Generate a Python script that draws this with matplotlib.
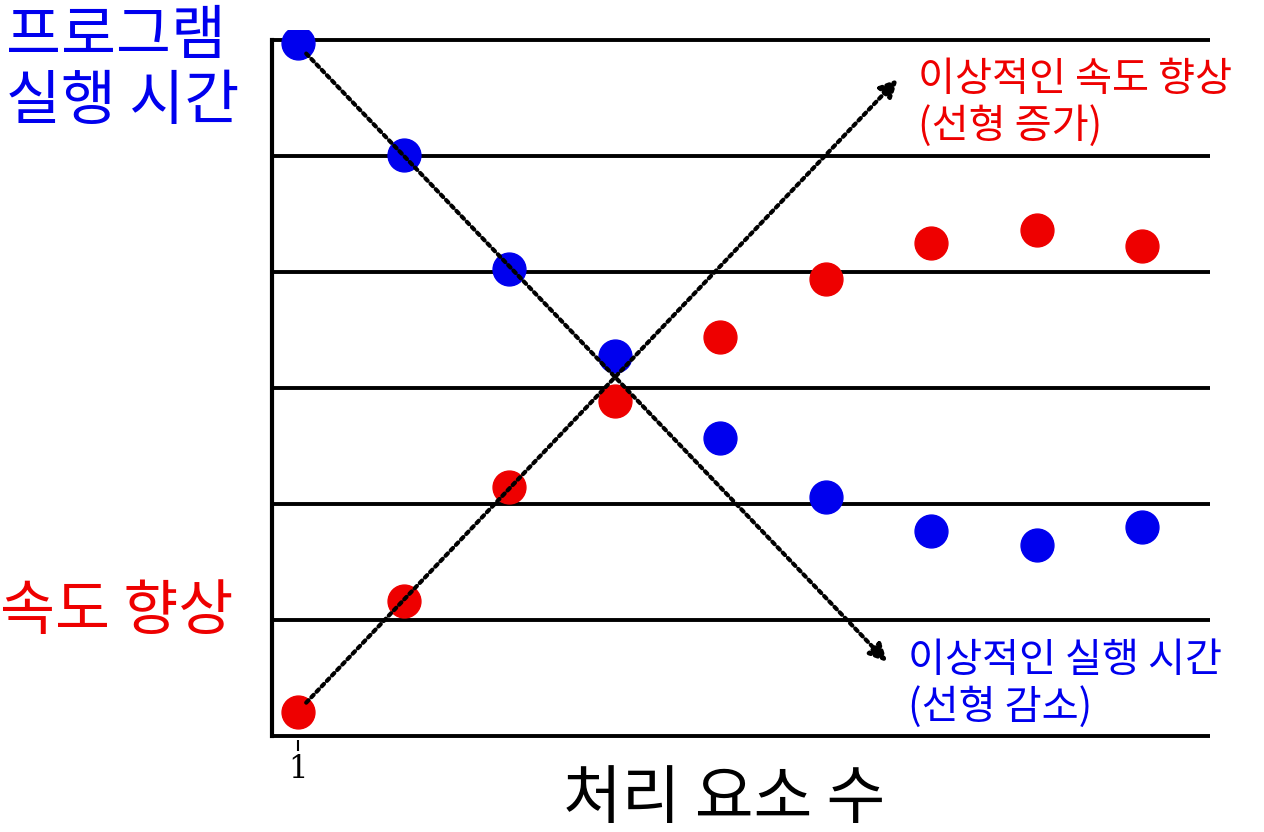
import matplotlib
matplotlib.use("Agg")
import matplotlib.pyplot as plt

plt.rcParams['font.family'] = ['Noto Sans CJK KR', 'DejaVu Sans']

x = [1, 2, 3, 4, 5, 6, 7, 8, 9]
exec_time = [5.97, 5.01, 4.03, 3.28, 2.57, 2.06, 1.77, 1.65, 1.80]
speedup = [0.21, 1.16, 2.15, 2.89, 3.44, 3.94, 4.25, 4.36, 4.22]
levels = [0, 1, 2, 3, 4, 5, 6]

W, H = 1264, 832
fig = plt.figure(figsize=(W/100, H/100), dpi=100)
ax = fig.add_axes([272/W, (H-740)/H, (1210-272)/W, (740-30)/H])
ax.set_xlim(0.754, 9.64)
ax.set_ylim(-0.0345, 6.086)
for lv in levels:
    ax.axhline(lv, color='black', lw=2.8, zorder=1)
ax.plot([0.754, 0.754], [0, 6.0], color='black', lw=3, clip_on=False)
for s in ax.spines.values():
    s.set_visible(False)
ax.set_yticks([])
ax.set_xticks([1])
ax.set_xticklabels(['1'], fontsize=22, family='DejaVu Serif')
ax.tick_params(axis='x', length=8, width=1.5, pad=2)

ax.scatter(x, exec_time, s=560, color='#0000ee', zorder=3)
ax.scatter(x, speedup, s=560, color='#ee0000', zorder=3)

ap = dict(arrowstyle='-|>', linestyle=(0, (0.8, 1.0)), lw=3.0, color='black', mutation_scale=26)
ax.annotate('', xy=(6.6, 0.62), xytext=(1.06, 5.9), arrowprops=ap)
ax.annotate('', xy=(6.7, 5.68), xytext=(1.06, 0.27), arrowprops=ap)

fig.text(918/W, 1-103/H, '이상적인 속도 향상\n(선형 증가)', color='#ee0000', fontsize=29, va='center', linespacing=1.15)
fig.text(908/W, 1-684/H, '이상적인 실행 시간\n(선형 감소)', color='#0000ee', fontsize=29, va='center', linespacing=1.15)
fig.text(6/W, 1-70/H, '프로그램\n실행 시간', color='#0000ee', fontsize=43, ha='left', va='center', linespacing=1.1)
fig.text(0/W, 1-612/H, '속도 향상', color='#ee0000', fontsize=43, ha='left', va='center')
fig.text(724/W, 1-800/H, '처리 요소 수', color='black', fontsize=46, ha='center', va='center')

fig.savefig('out.png', dpi=100)
